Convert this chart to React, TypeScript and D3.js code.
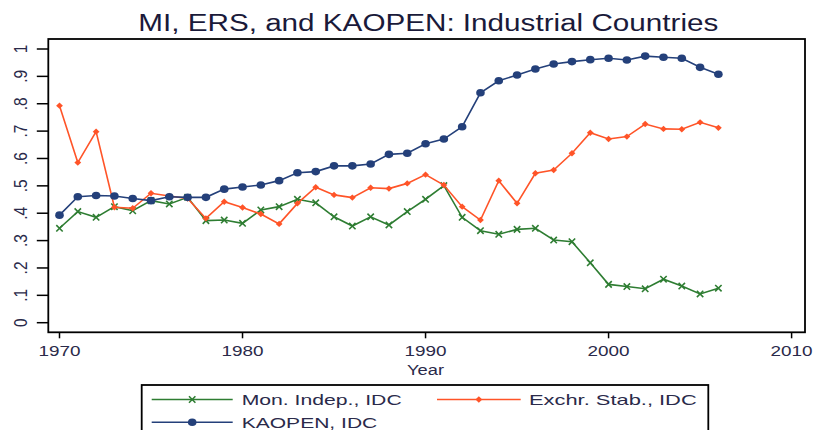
import React from "react";
import * as d3 from "d3";

const years = [1970,1971,1972,1973,1974,1975,1976,1977,1978,1979,1980,1981,1982,1983,1984,1985,1986,1987,1988,1989,1990,1991,1992,1993,1994,1995,1996,1997,1998,1999,2000,2001,2002,2003,2004,2005,2006];

const monIndep = [0.345,0.406,0.385,0.424,0.409,0.446,0.434,0.458,0.373,0.375,0.363,0.412,0.424,0.451,0.438,0.387,0.353,0.387,0.357,0.406,0.451,0.501,0.385,0.336,0.323,0.341,0.345,0.302,0.296,0.219,0.140,0.132,0.124,0.159,0.134,0.105,0.126];

const exchStab = [0.793,0.585,0.698,0.422,0.418,0.473,0.463,0.454,0.381,0.442,0.421,0.397,0.361,0.436,0.495,0.467,0.457,0.493,0.490,0.509,0.541,0.503,0.424,0.375,0.519,0.436,0.546,0.558,0.619,0.694,0.671,0.680,0.726,0.708,0.707,0.732,0.712];

const kaopen = [0.393,0.460,0.465,0.463,0.454,0.446,0.460,0.458,0.458,0.488,0.496,0.503,0.519,0.548,0.552,0.573,0.573,0.580,0.615,0.619,0.654,0.671,0.716,0.840,0.884,0.905,0.927,0.945,0.954,0.961,0.966,0.960,0.974,0.970,0.966,0.933,0.908];

const xTicks = [1970, 1980, 1990, 2000, 2010];
const yTicks = [0, 0.1, 0.2, 0.3, 0.4, 0.5, 0.6, 0.7, 0.8, 0.9, 1];
const yTickLabels = ["0", ".1", ".2", ".3", ".4", ".5", ".6", ".7", ".8", ".9", "1"];

const title = "MI, ERS, and KAOPEN: Industrial Countries";
const xTitle = "Year";
const seriesNames = ["Mon. Indep., IDC", "Exchr. Stab., IDC", "KAOPEN, IDC"];

const GREEN = "#2e7d32";
const ORANGE = "#ff5428";
const NAVY = "#24407a";
const FONT = "'Liberation Sans', Arial, Helvetica, sans-serif";

const ST = ({ x, y, sx, size, anchor = "start", children, fill = "#1a1a1a", rotate = 0 }: any) => (
  <g transform={`translate(${x},${y}) scale(${sx},1)${rotate ? ` rotate(${rotate})` : ""}`}>
    <text x={0} y={0} fontSize={size} fontFamily={FONT} textAnchor={anchor} fill={fill}>
      {children}
    </text>
  </g>
);

const Marker = ({ kind, cx, cy, color }: any) => {
  if (kind === "circle") return <ellipse cx={cx} cy={cy} rx={4.3} ry={3.8} fill={color} />;
  if (kind === "diamond")
    return <path d={`M${cx},${cy - 3.2}L${cx + 3.4},${cy}L${cx},${cy + 3.2}L${cx - 3.4},${cy}Z`} fill={color} />;
  const s = 3.2;
  return (
    <path
      d={`M${cx - s},${cy - s}L${cx + s},${cy + s}M${cx - s},${cy + s}L${cx + s},${cy - s}`}
      stroke={color}
      strokeWidth={1.6}
      fill="none"
    />
  );
};

export default function App() {
  const x = d3.scaleLinear().domain([1970, 2010]).range([59.5, 791.6]);
  const y = d3.scaleLinear().domain([0, 1]).range([322.7, 49]);
  const frame = { l: 48.3, r: 805, t: 39, b: 332.3 };

  const series = [
    { name: seriesNames[0], values: monIndep, color: GREEN, kind: "x" },
    { name: seriesNames[1], values: exchStab, color: ORANGE, kind: "diamond" },
    { name: seriesNames[2], values: kaopen, color: NAVY, kind: "circle" },
  ];

  const line = d3
    .line<number>()
    .x((_, i) => x(years[i]))
    .y((d) => y(d));

  const legendItems = [
    { s: series[0], lx: 151.7, lx2: 232.7, ty: 399.5, tx: 241.7, tl: 160 },
    { s: series[1], lx: 437, lx2: 520.7, ty: 399.5, tx: 529, tl: 167.7 },
    { s: series[2], lx: 151.7, lx2: 232.7, ty: 422.3, tx: 241.7, tl: 135.6 },
  ];

  return (
    <svg
      width={817}
      height={430}
      style={{ position: "absolute", left: 0, top: 0, background: "#fff" }}
    >
      <rect x={0} y={0} width={817} height={430} fill="#fff" />
      <text
        x={138.3}
        y={30.7}
        fontSize={23}
        fontFamily={FONT}
        fill="#1a1a3a"
        textLength={580}
        lengthAdjust="spacingAndGlyphs"
      >
        {title}
      </text>

      {/* frame */}
      <rect
        x={frame.l}
        y={frame.t}
        width={frame.r - frame.l}
        height={frame.b - frame.t}
        fill="none"
        stroke="#000"
        strokeWidth={1.8}
      />

      {/* y ticks */}
      {yTicks.map((t, i) => (
        <g key={"yt" + i}>
          <line x1={frame.l - 11.5} x2={frame.l} y1={y(t)} y2={y(t)} stroke="#000" strokeWidth={1.5} />
          <ST x={26.5} y={y(t)} sx={1.22} size={15.5} anchor="middle" rotate={-90} fill="#2a2a4a">
            {yTickLabels[i]}
          </ST>
        </g>
      ))}

      {/* x ticks */}
      {xTicks.map((t) => (
        <g key={"xt" + t}>
          <line x1={x(t)} x2={x(t)} y1={frame.b} y2={frame.b + 6} stroke="#000" strokeWidth={1.5} />
          <ST x={x(t)} y={356} sx={1.22} size={15.5} anchor="middle" fill="#2a2a4a">
            {t}
          </ST>
        </g>
      ))}
      <ST x={(x(1970) + x(2010)) / 2} y={374.5} sx={1.22} size={15} anchor="middle" fill="#2a2a4a">
        {xTitle}
      </ST>

      {/* series */}
      {series.map((s) => (
        <g key={s.name}>
          <path d={line(s.values) || ""} fill="none" stroke={s.color} strokeWidth={1.6} />
          {s.values.map((v, i) => (
            <Marker key={i} kind={s.kind} cx={x(years[i])} cy={y(v)} color={s.color} />
          ))}
        </g>
      ))}

      {/* legend */}
      <rect x={141.7} y={385} width={708.3 - 141.7} height={70} fill="#fff" stroke="#000" strokeWidth={1.8} />
      {legendItems.map((it) => (
        <g key={it.s.name}>
          <line x1={it.lx} x2={it.lx2} y1={it.ty} y2={it.ty} stroke={it.s.color} strokeWidth={1.6} />
          <Marker kind={it.s.kind} cx={(it.lx + it.lx2) / 2} cy={it.ty} color={it.s.color} />
          <text
            x={it.tx}
            y={it.ty + 5.5}
            fontSize={15}
            fontFamily={FONT}
            fill="#2a2a4a"
            textLength={it.tl}
            lengthAdjust="spacingAndGlyphs"
          >
            {it.s.name}
          </text>
        </g>
      ))}
    </svg>
  );
}
